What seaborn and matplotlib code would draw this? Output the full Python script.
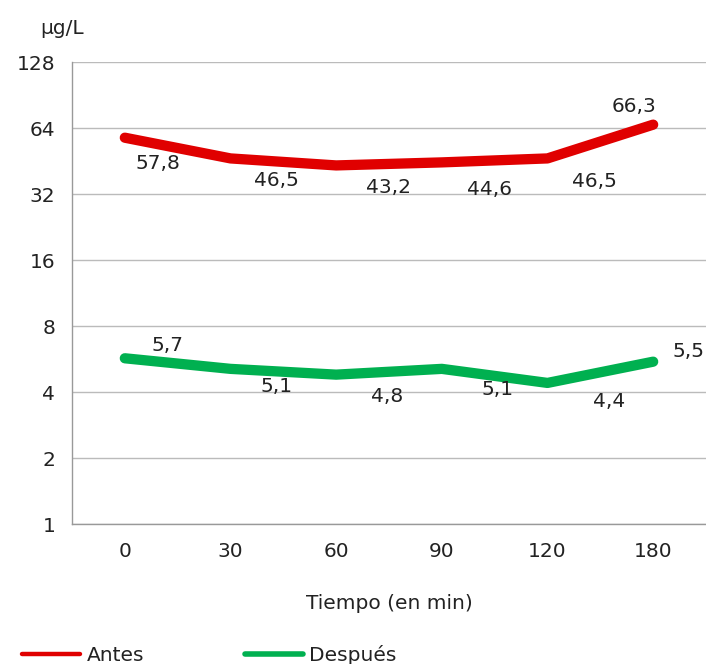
import numpy as np
import pandas as pd
import matplotlib
matplotlib.use('Agg')
import matplotlib.pyplot as plt
from matplotlib.lines import Line2D
from matplotlib.ticker import FixedLocator, NullFormatter
import seaborn as sns

# data
tiempos = ['0', '30', '60', '90', '120', '180']
antes = [57.8, 46.5, 43.2, 44.6, 46.5, 66.3]
despues = [5.7, 5.1, 4.8, 5.1, 4.4, 5.5]
antes_txt = ['57,8', '46,5', '43,2', '44,6', '46,5', '66,3']
despues_txt = ['5,7', '5,1', '4,8', '5,1', '4,4', '5,5']
y_ticks = [1, 2, 4, 8, 16, 32, 64, 128]

# label offsets in pixels (dx, dy up)
antes_off = [(33, -26), (46, -22), (52, -22), (48, -27), (47, -23), (-19, 18)]
despues_off = [(43, 13), (46, -18), (51, -22), (56, -21), (62, -19), (35, 10)]

red = '#e00000'
green = '#00b050'
txt_col = '#222222'
fs = 14.5

df = pd.DataFrame({
    'pos': list(range(len(tiempos))) * 2,
    'valor': antes + despues,
    'serie': ['Antes'] * len(antes) + ['Después'] * len(despues),
})

sns.set_style('white')
plt.rcParams['font.family'] = ['DejaVu Sans']

fig = plt.figure(figsize=(7.06, 6.64), dpi=100)
ax = fig.add_axes([72 / 706, 1 - 524 / 664, 634 / 706, 462 / 664])

sns.lineplot(data=df, x='pos', y='valor', hue='serie', palette=[red, green],
             linewidth=7.4, legend=False, ax=ax, solid_capstyle='round')

ax.set_yscale('log', base=2)
ax.set_ylim(1, 128)
ax.set_xlim(-0.5, 5.5)
ax.set_yticks(y_ticks)
ax.set_yticklabels([str(v) for v in y_ticks], fontsize=fs, color=txt_col)
ax.yaxis.set_minor_locator(FixedLocator([]))
ax.set_xticks(range(len(tiempos)))
ax.set_xticklabels(tiempos, fontsize=fs, color=txt_col)
ax.xaxis.set_minor_locator(FixedLocator(np.arange(-0.5, 6, 1)))
ax.xaxis.set_minor_formatter(NullFormatter())
ax.tick_params(axis='x', which='major', length=0, pad=13)
ax.tick_params(axis='x', which='minor', length=6, color='#999999', width=1)
ax.tick_params(axis='y', which='major', length=9, color='#999999', width=1, pad=3)
ax.grid(axis='y', color='#bbbbbb', linewidth=1)
ax.set_axisbelow(True)
for s in ['top', 'right']:
    ax.spines[s].set_visible(False)
for s in ['left', 'bottom']:
    ax.spines[s].set_color('#999999')
    ax.spines[s].set_linewidth(1)
ax.set_xlabel('Tiempo (en min)', fontsize=fs, labelpad=24, color=txt_col)
ax.set_ylabel('')

for i, (v, t) in enumerate(zip(antes, antes_txt)):
    ax.annotate(t, (i, v), xytext=(antes_off[i][0] * 0.72, antes_off[i][1] * 0.72),
                textcoords='offset points', ha='center', va='center', fontsize=fs,
                color=txt_col)
for i, (v, t) in enumerate(zip(despues, despues_txt)):
    ax.annotate(t, (i, v), xytext=(despues_off[i][0] * 0.72, despues_off[i][1] * 0.72),
                textcoords='offset points', ha='center', va='center', fontsize=fs,
                color=txt_col)

fig.text(40 / 706, 1 - 28 / 664, 'µg/L', fontsize=fs, va='center', color=txt_col)

handles = [Line2D([], [], color=red, lw=3.2), Line2D([], [], color=green, lw=4)]
fig.legend(handles, ['Antes', 'Después'], loc='center left',
           bbox_to_anchor=(22 / 706, 1 - 655 / 664), borderpad=0, borderaxespad=0,
           ncol=2, frameon=False, fontsize=fs, handlelength=2.9, handletextpad=0.3,
           columnspacing=5.0, labelcolor=txt_col)

fig.savefig('out.png', dpi=100)
